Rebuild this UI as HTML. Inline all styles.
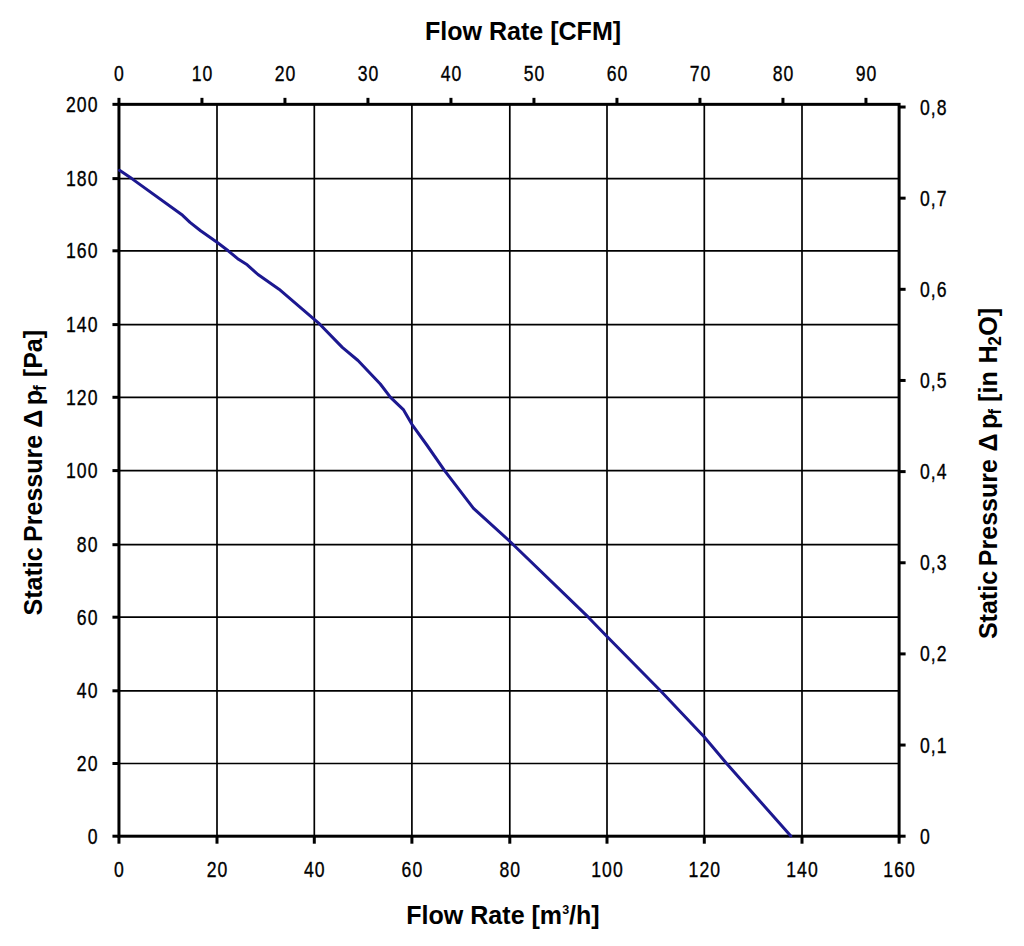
<!DOCTYPE html>
<html><head><meta charset="utf-8"><title>Fan curve</title>
<style>
html,body{margin:0;padding:0;background:#fff;width:1024px;height:946px;overflow:hidden}
svg{display:block}
.g{stroke:#000;stroke-width:1.7;fill:none}
.ax{stroke:#000;stroke-width:3;fill:none}
.t{stroke:#000;stroke-width:3;fill:none}
.c{stroke:#1c1890;stroke-width:3;fill:none;stroke-linejoin:round;stroke-linecap:round}
.l{font-family:"Liberation Sans",sans-serif;font-size:22px;fill:#000;stroke:#000;stroke-width:0.35px;letter-spacing:1.3px}
.tt{font-family:"Liberation Sans",sans-serif;font-size:26px;font-weight:bold;fill:#000}
.sub{font-size:18px}
.sup{font-size:13px}
.dl{font-weight:normal}
</style></head>
<body>
<svg width="1024" height="946" viewBox="0 0 1024 946">
<rect width="1024" height="946" fill="#fff"/>
<line x1="217.00" y1="104.35" x2="217.00" y2="836.20" class="g"/>
<line x1="314.30" y1="104.35" x2="314.30" y2="836.20" class="g"/>
<line x1="411.90" y1="104.35" x2="411.90" y2="836.20" class="g"/>
<line x1="509.80" y1="104.35" x2="509.80" y2="836.20" class="g"/>
<line x1="607.00" y1="104.35" x2="607.00" y2="836.20" class="g"/>
<line x1="704.30" y1="104.35" x2="704.30" y2="836.20" class="g"/>
<line x1="802.00" y1="104.35" x2="802.00" y2="836.20" class="g"/>
<line x1="118.95" y1="763.50" x2="899.10" y2="763.50" class="g"/>
<line x1="118.95" y1="690.80" x2="899.10" y2="690.80" class="g"/>
<line x1="118.95" y1="617.20" x2="899.10" y2="617.20" class="g"/>
<line x1="118.95" y1="544.70" x2="899.10" y2="544.70" class="g"/>
<line x1="118.95" y1="470.60" x2="899.10" y2="470.60" class="g"/>
<line x1="118.95" y1="397.30" x2="899.10" y2="397.30" class="g"/>
<line x1="118.95" y1="324.60" x2="899.10" y2="324.60" class="g"/>
<line x1="118.95" y1="250.80" x2="899.10" y2="250.80" class="g"/>
<line x1="118.95" y1="178.60" x2="899.10" y2="178.60" class="g"/>
<rect x="118.95" y="104.35" width="780.15" height="731.85" class="ax"/>
<line x1="112.45" y1="836.20" x2="118.95" y2="836.20" class="t"/>
<text transform="translate(98.50 843.70) scale(0.8 1)" class="l" text-anchor="end">0</text>
<line x1="112.45" y1="763.50" x2="118.95" y2="763.50" class="t"/>
<text transform="translate(98.50 771.00) scale(0.8 1)" class="l" text-anchor="end">20</text>
<line x1="112.45" y1="690.80" x2="118.95" y2="690.80" class="t"/>
<text transform="translate(98.50 698.30) scale(0.8 1)" class="l" text-anchor="end">40</text>
<line x1="112.45" y1="617.20" x2="118.95" y2="617.20" class="t"/>
<text transform="translate(98.50 624.70) scale(0.8 1)" class="l" text-anchor="end">60</text>
<line x1="112.45" y1="544.70" x2="118.95" y2="544.70" class="t"/>
<text transform="translate(98.50 552.20) scale(0.8 1)" class="l" text-anchor="end">80</text>
<line x1="112.45" y1="470.60" x2="118.95" y2="470.60" class="t"/>
<text transform="translate(98.50 478.10) scale(0.8 1)" class="l" text-anchor="end">100</text>
<line x1="112.45" y1="397.30" x2="118.95" y2="397.30" class="t"/>
<text transform="translate(98.50 404.80) scale(0.8 1)" class="l" text-anchor="end">120</text>
<line x1="112.45" y1="324.60" x2="118.95" y2="324.60" class="t"/>
<text transform="translate(98.50 332.10) scale(0.8 1)" class="l" text-anchor="end">140</text>
<line x1="112.45" y1="250.80" x2="118.95" y2="250.80" class="t"/>
<text transform="translate(98.50 258.30) scale(0.8 1)" class="l" text-anchor="end">160</text>
<line x1="112.45" y1="178.60" x2="118.95" y2="178.60" class="t"/>
<text transform="translate(98.50 186.10) scale(0.8 1)" class="l" text-anchor="end">180</text>
<line x1="112.45" y1="104.35" x2="118.95" y2="104.35" class="t"/>
<text transform="translate(98.50 111.85) scale(0.8 1)" class="l" text-anchor="end">200</text>
<line x1="118.95" y1="836.20" x2="118.95" y2="843.70" class="t"/>
<text transform="translate(119.45 877.00) scale(0.8 1)" class="l" text-anchor="middle">0</text>
<line x1="217.00" y1="836.20" x2="217.00" y2="843.70" class="t"/>
<text transform="translate(217.50 877.00) scale(0.8 1)" class="l" text-anchor="middle">20</text>
<line x1="314.30" y1="836.20" x2="314.30" y2="843.70" class="t"/>
<text transform="translate(314.80 877.00) scale(0.8 1)" class="l" text-anchor="middle">40</text>
<line x1="411.90" y1="836.20" x2="411.90" y2="843.70" class="t"/>
<text transform="translate(412.40 877.00) scale(0.8 1)" class="l" text-anchor="middle">60</text>
<line x1="509.80" y1="836.20" x2="509.80" y2="843.70" class="t"/>
<text transform="translate(510.30 877.00) scale(0.8 1)" class="l" text-anchor="middle">80</text>
<line x1="607.00" y1="836.20" x2="607.00" y2="843.70" class="t"/>
<text transform="translate(607.50 877.00) scale(0.8 1)" class="l" text-anchor="middle">100</text>
<line x1="704.30" y1="836.20" x2="704.30" y2="843.70" class="t"/>
<text transform="translate(704.80 877.00) scale(0.8 1)" class="l" text-anchor="middle">120</text>
<line x1="802.00" y1="836.20" x2="802.00" y2="843.70" class="t"/>
<text transform="translate(802.50 877.00) scale(0.8 1)" class="l" text-anchor="middle">140</text>
<line x1="899.10" y1="836.20" x2="899.10" y2="843.70" class="t"/>
<text transform="translate(899.60 877.00) scale(0.8 1)" class="l" text-anchor="middle">160</text>
<line x1="118.95" y1="104.35" x2="118.95" y2="97.85" class="t"/>
<text transform="translate(119.45 80.80) scale(0.8 1)" class="l" text-anchor="middle">0</text>
<line x1="201.95" y1="104.35" x2="201.95" y2="97.85" class="t"/>
<text transform="translate(202.45 80.80) scale(0.8 1)" class="l" text-anchor="middle">10</text>
<line x1="284.95" y1="104.35" x2="284.95" y2="97.85" class="t"/>
<text transform="translate(285.45 80.80) scale(0.8 1)" class="l" text-anchor="middle">20</text>
<line x1="367.95" y1="104.35" x2="367.95" y2="97.85" class="t"/>
<text transform="translate(368.45 80.80) scale(0.8 1)" class="l" text-anchor="middle">30</text>
<line x1="450.95" y1="104.35" x2="450.95" y2="97.85" class="t"/>
<text transform="translate(451.45 80.80) scale(0.8 1)" class="l" text-anchor="middle">40</text>
<line x1="533.95" y1="104.35" x2="533.95" y2="97.85" class="t"/>
<text transform="translate(534.45 80.80) scale(0.8 1)" class="l" text-anchor="middle">50</text>
<line x1="616.95" y1="104.35" x2="616.95" y2="97.85" class="t"/>
<text transform="translate(617.45 80.80) scale(0.8 1)" class="l" text-anchor="middle">60</text>
<line x1="699.95" y1="104.35" x2="699.95" y2="97.85" class="t"/>
<text transform="translate(700.45 80.80) scale(0.8 1)" class="l" text-anchor="middle">70</text>
<line x1="782.95" y1="104.35" x2="782.95" y2="97.85" class="t"/>
<text transform="translate(783.45 80.80) scale(0.8 1)" class="l" text-anchor="middle">80</text>
<line x1="865.95" y1="104.35" x2="865.95" y2="97.85" class="t"/>
<text transform="translate(866.45 80.80) scale(0.8 1)" class="l" text-anchor="middle">90</text>
<line x1="899.10" y1="836.20" x2="905.60" y2="836.20" class="t"/>
<text transform="translate(920.00 843.70) scale(0.8 1)" class="l">0</text>
<line x1="899.10" y1="745.05" x2="905.60" y2="745.05" class="t"/>
<text transform="translate(920.00 752.55) scale(0.8 1)" class="l">0,1</text>
<line x1="899.10" y1="653.90" x2="905.60" y2="653.90" class="t"/>
<text transform="translate(920.00 661.40) scale(0.8 1)" class="l">0,2</text>
<line x1="899.10" y1="562.76" x2="905.60" y2="562.76" class="t"/>
<text transform="translate(920.00 570.26) scale(0.8 1)" class="l">0,3</text>
<line x1="899.10" y1="471.61" x2="905.60" y2="471.61" class="t"/>
<text transform="translate(920.00 479.11) scale(0.8 1)" class="l">0,4</text>
<line x1="899.10" y1="380.46" x2="905.60" y2="380.46" class="t"/>
<text transform="translate(920.00 387.96) scale(0.8 1)" class="l">0,5</text>
<line x1="899.10" y1="289.31" x2="905.60" y2="289.31" class="t"/>
<text transform="translate(920.00 296.81) scale(0.8 1)" class="l">0,6</text>
<line x1="899.10" y1="198.16" x2="905.60" y2="198.16" class="t"/>
<text transform="translate(920.00 205.66) scale(0.8 1)" class="l">0,7</text>
<line x1="899.10" y1="107.02" x2="905.60" y2="107.02" class="t"/>
<text transform="translate(920.00 114.52) scale(0.8 1)" class="l">0,8</text>
<path d="M119.5,170.3 L131.8,178.6 L182.6,215.3 L190.0,222.4 L200.6,230.8 L217.0,242.3 L228.2,250.8 L238.5,259.3 L247.2,264.8 L258.0,274.5 L279.0,289.2 L298.8,306.1 L319.8,324.2 L342.3,347.4 L358.0,360.5 L380.3,384.0 L390.5,397.3 L403.6,409.9 L411.9,424.3 L426.8,445.0 L444.6,470.6 L473.5,508.3 L510.5,542.0 L588.3,617.2 L607.0,636.5 L660.5,690.8 L704.3,737.0 L726.6,763.5 L790.8,836.0" class="c"/>
<text transform="translate(523 39.6) scale(0.964 1)" class="tt" text-anchor="middle">Flow Rate [CFM]</text>
<text transform="translate(503 923.8) scale(0.964 1)" class="tt" text-anchor="middle">Flow Rate [m<tspan class="sup" dy="-10">3</tspan><tspan dy="10">/h]</tspan></text>
<text transform="translate(41.60 615.50) rotate(-90) scale(0.964 1)" class="tt">Static</text>
<text transform="translate(41.60 542.00) rotate(-90) scale(0.964 1)" class="tt">Pressure</text>
<text transform="translate(41.60 427.70) rotate(-90) scale(0.964 1)" class="tt">Δ</text>
<text transform="translate(41.60 405.30) rotate(-90) scale(0.964 1)" class="tt">p</text>
<text transform="translate(46.20 391.00) rotate(-90) scale(0.964 1)" class="tt sub">f</text>
<text transform="translate(41.60 377.20) rotate(-90) scale(0.964 1)" class="tt">[Pa]</text>
<text transform="translate(996.60 639.10) rotate(-90) scale(0.964 1)" class="tt">Static</text>
<text transform="translate(996.60 566.20) rotate(-90) scale(0.964 1)" class="tt">Pressure</text>
<text transform="translate(996.60 451.60) rotate(-90) scale(0.964 1)" class="tt">Δ</text>
<text transform="translate(996.60 428.90) rotate(-90) scale(0.964 1)" class="tt">p</text>
<text transform="translate(1001.20 414.80) rotate(-90) scale(0.964 1)" class="tt sub">f</text>
<text transform="translate(996.60 401.90) rotate(-90) scale(0.964 1)" class="tt">[in</text>
<text transform="translate(996.60 363.40) rotate(-90) scale(0.964 1)" class="tt">H</text>
<text transform="translate(1001.10 345.70) rotate(-90) scale(0.964 1)" class="tt sub">2</text>
<text transform="translate(996.60 335.80) rotate(-90) scale(0.964 1)" class="tt">O]</text>
</svg>
</body></html>
